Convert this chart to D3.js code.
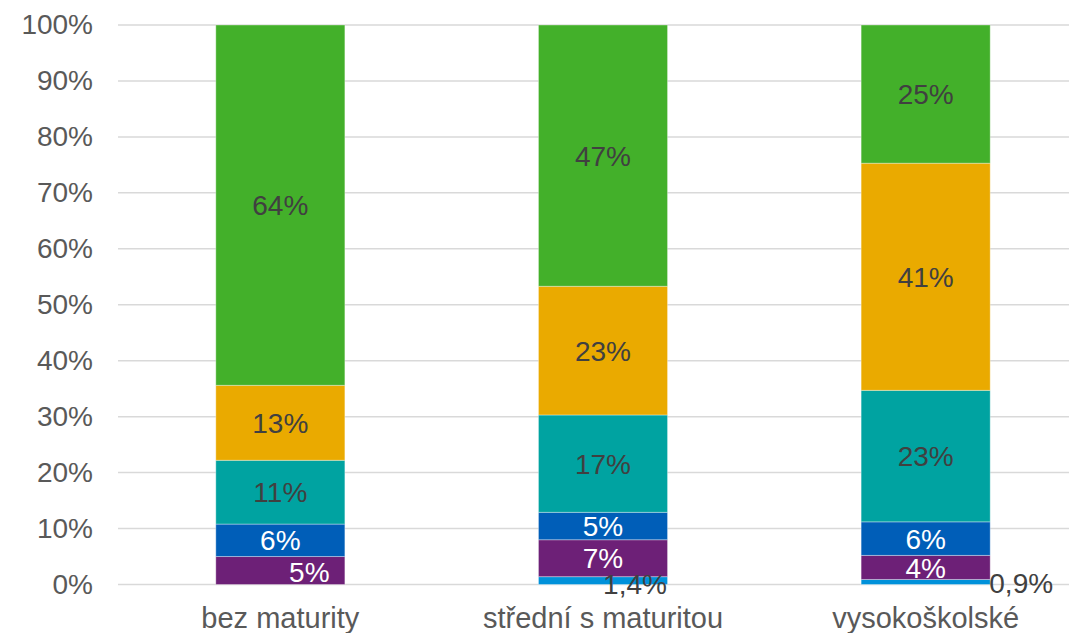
<!DOCTYPE html>
<html>
<head>
<meta charset="utf-8">
<script src="https://cdn.jsdelivr.net/npm/d3@7"></script>
<style>
  html, body { margin: 0; padding: 0; background: #fff; }
  svg { display: block; font-family: "Liberation Sans", Arial, sans-serif; }
</style>
</head>
<body>
<svg id="chart" width="1069" height="633"></svg>
<script>
const categories = ["bez maturity", "střední s maturitou", "vysokoškolské"];
const seriesNames = ["s1", "s2", "s3", "s4", "s5", "s6"];
const s1 = [0, 1.4, 0.9];
const s2 = [5.0, 6.6, 4.3];
const s3 = [5.8, 4.9, 6.0];
const s4 = [11.4, 17.4, 23.5];
const s5 = [13.4, 23.0, 40.6];
const s6 = [64.4, 46.7, 24.7];
const labels1 = ["", "1,4%", "0,9%"];
const labels2 = ["5%", "7%", "4%"];
const labels3 = ["6%", "5%", "6%"];
const labels4 = ["11%", "17%", "23%"];
const labels5 = ["13%", "23%", "41%"];
const labels6 = ["64%", "47%", "25%"];
const yTicks = [0, 10, 20, 30, 40, 50, 60, 70, 80, 90, 100];

const seriesValues = [s1, s2, s3, s4, s5, s6];
const seriesLabels = [labels1, labels2, labels3, labels4, labels5, labels6];
const colors = ["#0091DA", "#6D2077", "#005EB8", "#00A3A1", "#EAAA00", "#43B02A"];
const labelColors = ["#404040", "#ffffff", "#ffffff", "#404040", "#404040", "#404040"];

const svg = d3.select("#chart");
const x = d3.scaleBand().domain(categories).range([119, 1087]).paddingInner(0.6).paddingOuter(0.3);
const y = d3.scaleLinear().domain([0, 100]).range([584.5, 25]);

// gridlines
svg.append("g").selectAll("line").data(yTicks).join("line")
  .attr("x1", 118).attr("x2", 1069)
  .attr("y1", d => y(d)).attr("y2", d => y(d))
  .attr("stroke", "#d9d9d9").attr("stroke-width", 1.5);

// y axis labels
const yAxis = d3.axisLeft(y).tickValues(yTicks).tickFormat(d => d + "%").tickSize(0).tickPadding(0);
const gy = svg.append("g").attr("transform", "translate(93,0)").call(yAxis);
gy.select(".domain").remove();
gy.selectAll("text").attr("font-size", 28).attr("fill", "#595959")
  .attr("font-family", "Liberation Sans, Arial, sans-serif");

// x axis labels
const xAxis = d3.axisBottom(x).tickSize(0).tickPadding(0);
const gx = svg.append("g").attr("transform", "translate(0,607)").call(xAxis);
gx.select(".domain").remove();
gx.selectAll("text").attr("font-size", 29).attr("fill", "#595959")
  .attr("font-family", "Liberation Sans, Arial, sans-serif").attr("dy", "0.71em");

// stacked data
const table = categories.map((c, i) => {
  const o = { cat: c };
  seriesNames.forEach((s, k) => o[s] = seriesValues[k][i]);
  return o;
});
const stack = d3.stack().keys(seriesNames)(table);

const gBars = svg.append("g");
stack.forEach((layer, k) => {
  gBars.append("g").selectAll("rect").data(layer).join("rect")
    .attr("x", d => x(d.data.cat))
    .attr("width", x.bandwidth())
    .attr("y", d => y(d[1]))
    .attr("height", d => y(d[0]) - y(d[1]))
    .attr("fill", colors[k])
    .attr("stroke", "rgba(255,255,255,0.35)")
    .attr("stroke-width", 1);
});

// labels
const gLab = svg.append("g");
stack.forEach((layer, k) => {
  layer.forEach((d, i) => {
    const txt = seriesLabels[k][i];
    if (!txt) return;
    let cx = x(d.data.cat) + x.bandwidth() / 2;
    let cy = (y(d[0]) + y(d[1])) / 2;
    let color = labelColors[k];
    if (k === 0) {
      color = "#404040";
      if (i === 1) { cx = x(d.data.cat) + x.bandwidth() / 2 + 32; cy = y(d[1]) + 7; }
      if (i === 2) { cx = x(d.data.cat) + x.bandwidth() + 31; cy = y(d[0]) - 2; }
    }
    if (k === 1 && i === 0) { cx = x(d.data.cat) + x.bandwidth() / 2 + 29; cy = cy + 1; }
    gLab.append("text")
      .attr("x", cx).attr("y", cy)
      .attr("dy", "0.36em")
      .attr("text-anchor", "middle")
      .attr("font-size", 28)
      .attr("fill", color)
      .text(txt);
  });
});
</script>
</body>
</html>
